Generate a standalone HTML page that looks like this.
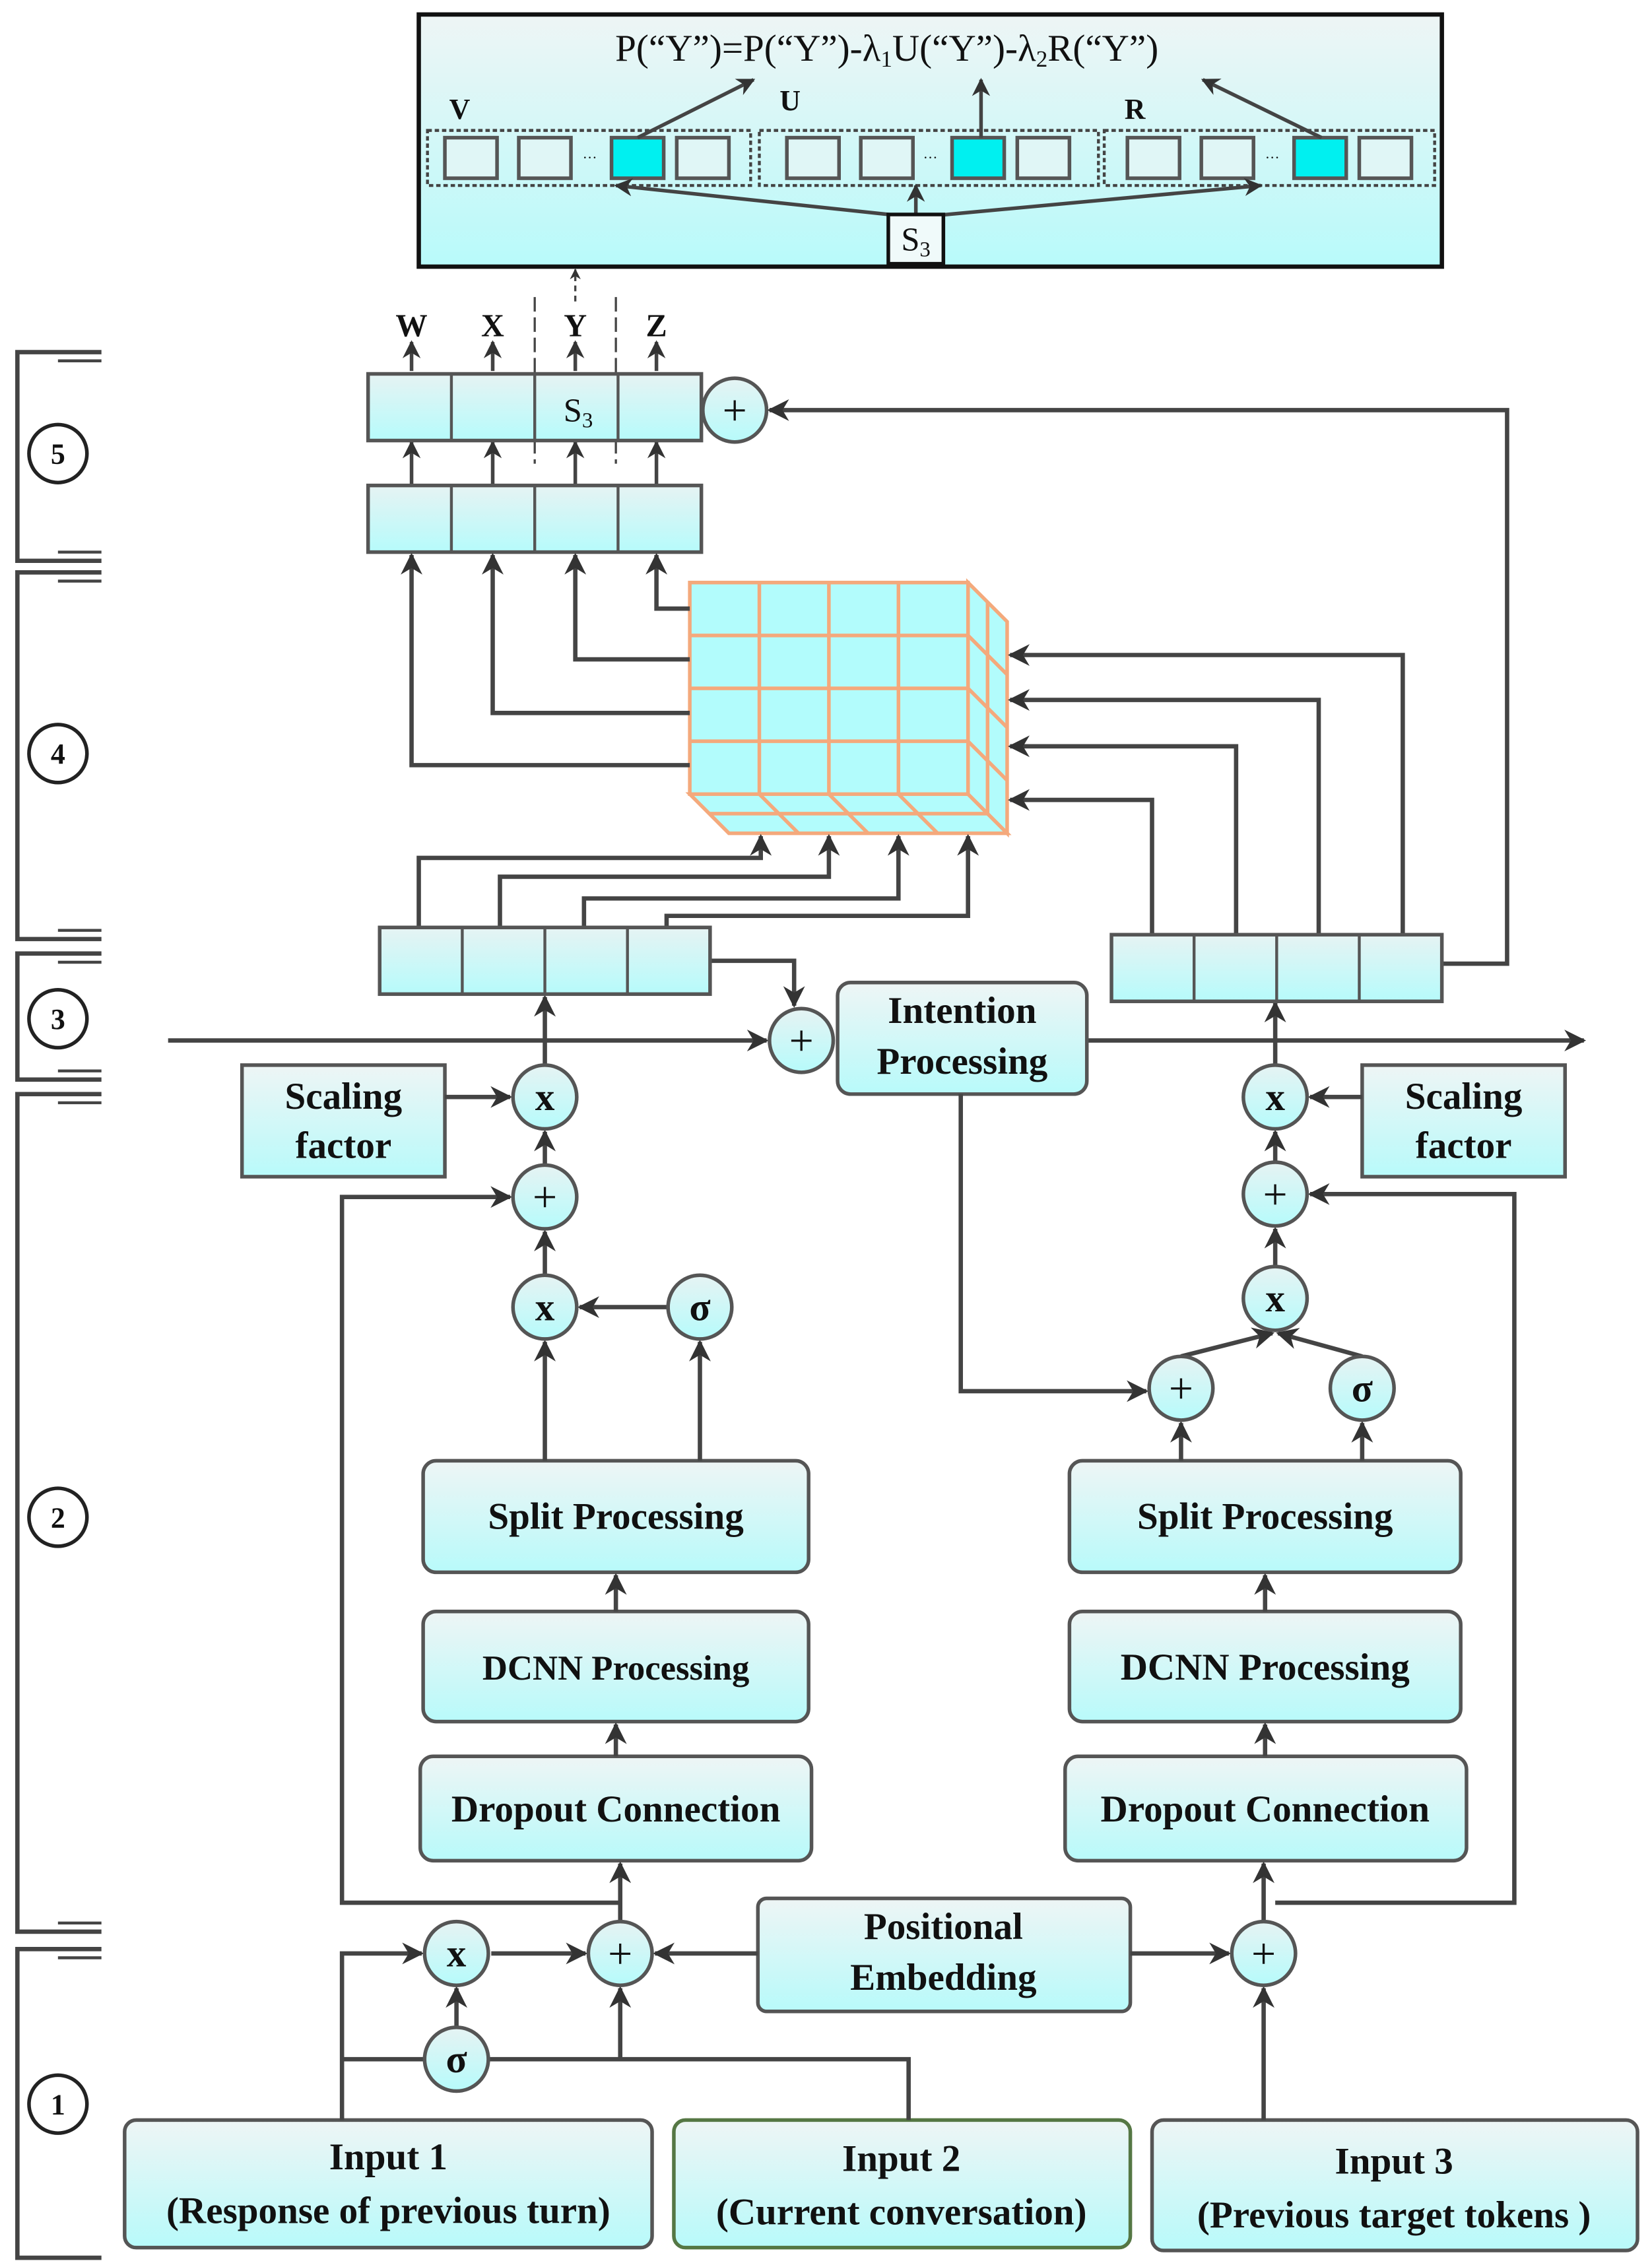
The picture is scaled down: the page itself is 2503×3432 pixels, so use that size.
<!DOCTYPE html>
<html><head><meta charset="utf-8"><style>
html,body{margin:0;padding:0;background:#fff}
svg{display:block}
text{font-family:"Liberation Serif",serif;fill:#111}
.b{font-weight:bold;font-size:26px}
</style></head><body>
<svg width="2503" height="3432" viewBox="0 0 1140 1563" preserveAspectRatio="none" xmlns="http://www.w3.org/2000/svg">
<defs>
<linearGradient id="g" x1="0" y1="0" x2="0" y2="1"><stop offset="0" stop-color="#eef5f5"/><stop offset="1" stop-color="#b8fafa"/></linearGradient>
<linearGradient id="g2" x1="0" y1="0" x2="0" y2="1"><stop offset="0" stop-color="#e6f3f3"/><stop offset="1" stop-color="#b6fbfb"/></linearGradient>
<marker id="a" viewBox="0 0 10 10" refX="9" refY="5" markerWidth="5" markerHeight="5" orient="auto-start-reverse"><path d="M0,0 L10,5 L0,10 L3,5 z" fill="#333"/></marker>
</defs>
<g stroke="#444" stroke-width="3" fill="none">
<path d="M70,243 H12 V387 H70 M70,395 H12 V648 H70 M70,658 H12 V745 H70 M70,755 H12 V1333 H70 M70,1345 H12 V1558 H70"/>
<path d="M40,249 H70 M40,381 H70 M40,401 H70 M40,642 H70 M40,664 H70 M40,739 H70 M40,761 H70 M40,1327 H70 M40,1351 H70" stroke-width="2"/>
</g>
<g stroke="#222" stroke-width="2.5" fill="#fff">
<circle cx="40" cy="313" r="20"/><circle cx="40" cy="520" r="20"/><circle cx="40" cy="703" r="20"/><circle cx="40" cy="1047" r="20"/><circle cx="40" cy="1452" r="20"/>
</g>
<g class="b" text-anchor="middle"><text x="40" y="320" font-size="20">5</text><text x="40" y="527" font-size="20">4</text><text x="40" y="710" font-size="20">3</text><text x="40" y="1054" font-size="20">2</text><text x="40" y="1459" font-size="20">1</text></g>

<rect x="289" y="10" width="706" height="174" fill="url(#g)" stroke="#111" stroke-width="3"/>
<text x="612" y="42" text-anchor="middle" font-size="26">P(“Y”)=P(“Y”)-λ<tspan font-size="16" dy="4">1</tspan><tspan dy="-4">U(“Y”)-λ</tspan><tspan font-size="16" dy="4">2</tspan><tspan dy="-4">R(“Y”)</tspan></text>
<text x="310" y="82" font-size="20" font-weight="bold">V</text><text x="538" y="76" font-size="20" font-weight="bold">U</text><text x="776" y="82" font-size="20" font-weight="bold">R</text>
<g fill="none" stroke="#444" stroke-width="2" stroke-dasharray="3,2"><rect x="295" y="90" width="223" height="38"/><rect x="524" y="90" width="234" height="38"/><rect x="762" y="90" width="228" height="38"/></g>
<g fill="#e0f6f6" stroke="#555" stroke-width="2.5">
<rect x="307" y="95" width="36" height="28"/><rect x="358" y="95" width="36" height="28"/><rect x="422" y="95" width="36" height="28" fill="#00f0f0"/><rect x="467" y="95" width="36" height="28"/>
<rect x="543" y="95" width="36" height="28"/><rect x="594" y="95" width="36" height="28"/><rect x="657" y="95" width="36" height="28" fill="#00f0f0"/><rect x="702" y="95" width="36" height="28"/>
<rect x="778" y="95" width="36" height="28"/><rect x="829" y="95" width="36" height="28"/><rect x="893" y="95" width="36" height="28" fill="#00f0f0"/><rect x="938" y="95" width="36" height="28"/>
</g>
<g fill="#999" font-size="10"><text x="402" y="112">···</text><text x="637" y="112">···</text><text x="873" y="112">···</text></g>
<g stroke="#444" stroke-width="2.5" marker-end="url(#a)" fill="none">
<path d="M440,95 L520,55"/><path d="M677,95 L677,55"/><path d="M912,95 L830,55"/>
<path d="M632,150 L425,128"/><path d="M632,150 L632,128"/><path d="M632,150 L870,128"/>
</g>
<rect x="613" y="148" width="38" height="34" fill="#f0fafa" stroke="#111" stroke-width="2.5"/>
<text x="632" y="173" text-anchor="middle" font-size="23">S<tspan font-size="15" dy="4">3</tspan></text>
<path d="M397,208 L397,186" stroke="#444" stroke-width="1.5" stroke-dasharray="4,3" marker-end="url(#a)"/>
<path d="M369,205 V320 M425,205 V320" stroke="#444" stroke-width="1.5" stroke-dasharray="10,4"/>

<g class="b" text-anchor="middle"><text x="284" y="232" font-size="22">W</text><text x="340" y="232" font-size="22">X</text><text x="397" y="232" font-size="22">Y</text><text x="453" y="232" font-size="22">Z</text></g>
<g stroke="#444" stroke-width="2.5" marker-end="url(#a)" fill="none">
<path d="M284,256 V236"/><path d="M340,256 V236"/><path d="M397,256 V236"/><path d="M453,256 V236"/>
<path d="M284,335 V305"/><path d="M340,335 V305"/><path d="M397,335 V305"/><path d="M453,335 V305"/>
</g>
<g fill="url(#g2)" stroke="#555" stroke-width="2.5">
<rect x="254" y="258" width="230" height="46"/><rect x="254" y="335" width="230" height="46"/>
</g>
<path d="M311.5,258 V304 M369,258 V304 M426.5,258 V304 M311.5,335 V381 M369,335 V381 M426.5,335 V381" stroke="#555" stroke-width="2"/>
<text x="399" y="291" text-anchor="middle" font-size="23">S<tspan font-size="15" dy="4">3</tspan></text>
<circle cx="507" cy="283" r="22" fill="url(#g2)" stroke="#555" stroke-width="2.5"/>
<text x="507" y="293" text-anchor="middle" font-size="30">+</text>
<path d="M995,665 H1040 V283 H531" stroke="#444" stroke-width="3" fill="none" marker-end="url(#a)"/>

<g stroke="#f4a97c" stroke-width="2.5" fill="#b2fcfc">
<polygon points="668,402 695,429 695,575 668,548"/>
<polygon points="476,548 668,548 695,575 503,575"/>
<rect x="476" y="402" width="192" height="146"/>
<path d="M524,402 V548 M572,402 V548 M620,402 V548 M476,438.5 H668 M476,475 H668 M476,511.5 H668" fill="none"/>
<path d="M668,438.5 L695,465.5 M668,475 L695,502 M668,511.5 L695,538.5 M681.5,415.5 V561.5" fill="none"/>
<path d="M489.5,561.5 H681.5 M524,548 L551,575 M572,548 L599,575 M620,548 L647,575" fill="none"/>
</g>
<g stroke="#444" stroke-width="3" fill="none" marker-end="url(#a)">
<path d="M476,420 H453 V383"/><path d="M476,455 H397 V383"/><path d="M476,492 H340 V383"/><path d="M476,528 H284 V383"/>
<path d="M968,645 V452 H697"/><path d="M910,645 V483 H697"/><path d="M853,645 V515 H697"/><path d="M795,645 V552 H697"/>
<path d="M289,640 V592 H525 V577"/><path d="M345,640 V605 H572 V577"/><path d="M403,640 V620 H620 V577"/><path d="M460,640 V632 H668 V577"/>
<path d="M490,663 H548 V694"/>
<path d="M116,718 H529"/><path d="M750,718 H1093"/>
<path d="M376,735 V688"/><path d="M880,735 V692"/>
</g>
<g fill="url(#g2)" stroke="#555" stroke-width="2.5">
<rect x="262" y="640" width="228" height="46"/><rect x="767" y="645" width="228" height="46"/>
</g>
<path d="M319,640 V686 M376,640 V686 M433,640 V686 M824,645 V691 M881,645 V691 M938,645 V691" stroke="#555" stroke-width="2"/>

<g fill="url(#g)" stroke="#555" stroke-width="2.5">
<rect x="578" y="678" width="172" height="77" rx="9"/>
<rect x="167" y="735" width="140" height="77"/><rect x="940" y="735" width="140" height="77"/>
<rect x="292" y="1008" width="266" height="77" rx="9"/><rect x="292" y="1112" width="266" height="76" rx="9"/><rect x="290" y="1212" width="270" height="72" rx="9"/>
<rect x="738" y="1008" width="270" height="77" rx="9"/><rect x="738" y="1112" width="270" height="76" rx="9"/><rect x="735" y="1212" width="277" height="72" rx="9"/>
<rect x="523" y="1310" width="257" height="78" rx="6"/>
<rect x="86" y="1463" width="364" height="88" rx="8"/><rect x="465" y="1463" width="315" height="88" rx="8" stroke="#557744"/><rect x="795" y="1463" width="335" height="90" rx="8"/>
</g>
<g class="b" text-anchor="middle">
<text x="664" y="706">Intention</text><text x="664" y="741">Processing</text>
<text x="237" y="765">Scaling</text><text x="237" y="799">factor</text>
<text x="1010" y="765">Scaling</text><text x="1010" y="799">factor</text>
<text x="425" y="1055">Split Processing</text><text x="425" y="1159" font-size="24">DCNN Processing</text><text x="425" y="1257">Dropout Connection</text>
<text x="873" y="1055">Split Processing</text><text x="873" y="1159">DCNN Processing</text><text x="873" y="1257">Dropout Connection</text>
<text x="651" y="1338">Positional</text><text x="651" y="1373">Embedding</text>
<text x="268" y="1497">Input 1</text><text x="268" y="1534">(Response of previous turn)</text>
<text x="622" y="1498">Input 2</text><text x="622" y="1535">(Current conversation)</text>
<text x="962" y="1500">Input 3</text><text x="962" y="1537">(Previous target tokens )</text>
</g>

<g stroke="#444" stroke-width="3" fill="none" marker-end="url(#a)">
<path d="M307,757 H352"/><path d="M940,757 H904"/>
<path d="M376,804 V781"/><path d="M880,802 V781"/>
<path d="M376,880 V850"/><path d="M880,874 V848"/>
<path d="M461,902 H400"/>
<path d="M376,1008 V926"/><path d="M483,1008 V926"/>
<path d="M815,1008 V982"/><path d="M940,1008 V982"/>
<path d="M815,936 L878,920"/><path d="M940,936 L882,920"/>
<path d="M663,755 V960 H791"/>
<path d="M425,1212 V1190"/><path d="M425,1112 V1087"/>
<path d="M873,1212 V1190"/><path d="M873,1112 V1087"/>
<path d="M428,1313 H236 V826 H352"/>
<path d="M880,1313 H1045 V824 H904"/>
<path d="M428,1326 V1286"/><path d="M872,1326 V1286"/>
<path d="M236,1463 V1348 H291"/>
<path d="M339,1348 H404"/>
<path d="M315,1399 V1372"/>
<path d="M428,1421 V1372"/>
<path d="M523,1348 H452"/><path d="M780,1348 H848"/>
<path d="M872,1463 V1372"/>
</g>
<path d="M627,1463 V1421 H337 M293,1421 H236" stroke="#444" stroke-width="3" fill="none"/>

<g fill="url(#g2)" stroke="#555" stroke-width="2.5">
<circle cx="553" cy="718" r="22"/>
<circle cx="376" cy="757" r="22"/><circle cx="880" cy="757" r="22"/>
<circle cx="376" cy="826" r="22"/><circle cx="880" cy="824" r="22"/>
<circle cx="376" cy="902" r="22"/><circle cx="483" cy="902" r="22"/>
<circle cx="880" cy="896" r="22"/><circle cx="815" cy="958" r="22"/><circle cx="940" cy="958" r="22"/>
<circle cx="315" cy="1348" r="22"/><circle cx="428" cy="1348" r="22"/><circle cx="315" cy="1421" r="22"/><circle cx="872" cy="1348" r="22"/>
</g>
<g text-anchor="middle" font-size="30">
<text x="553" y="728">+</text><text x="376" y="836">+</text><text x="880" y="834">+</text><text x="815" y="968">+</text><text x="428" y="1358">+</text><text x="872" y="1358">+</text>
</g>
<g class="b" text-anchor="middle">
<text x="376" y="766" font-size="27">x</text><text x="880" y="766" font-size="27">x</text><text x="376" y="911" font-size="27">x</text><text x="880" y="905" font-size="27">x</text><text x="315" y="1357" font-size="27">x</text>
<text x="483" y="911" font-size="27">σ</text><text x="940" y="967" font-size="27">σ</text><text x="315" y="1430" font-size="27">σ</text>
</g>
</svg>
</body></html>
